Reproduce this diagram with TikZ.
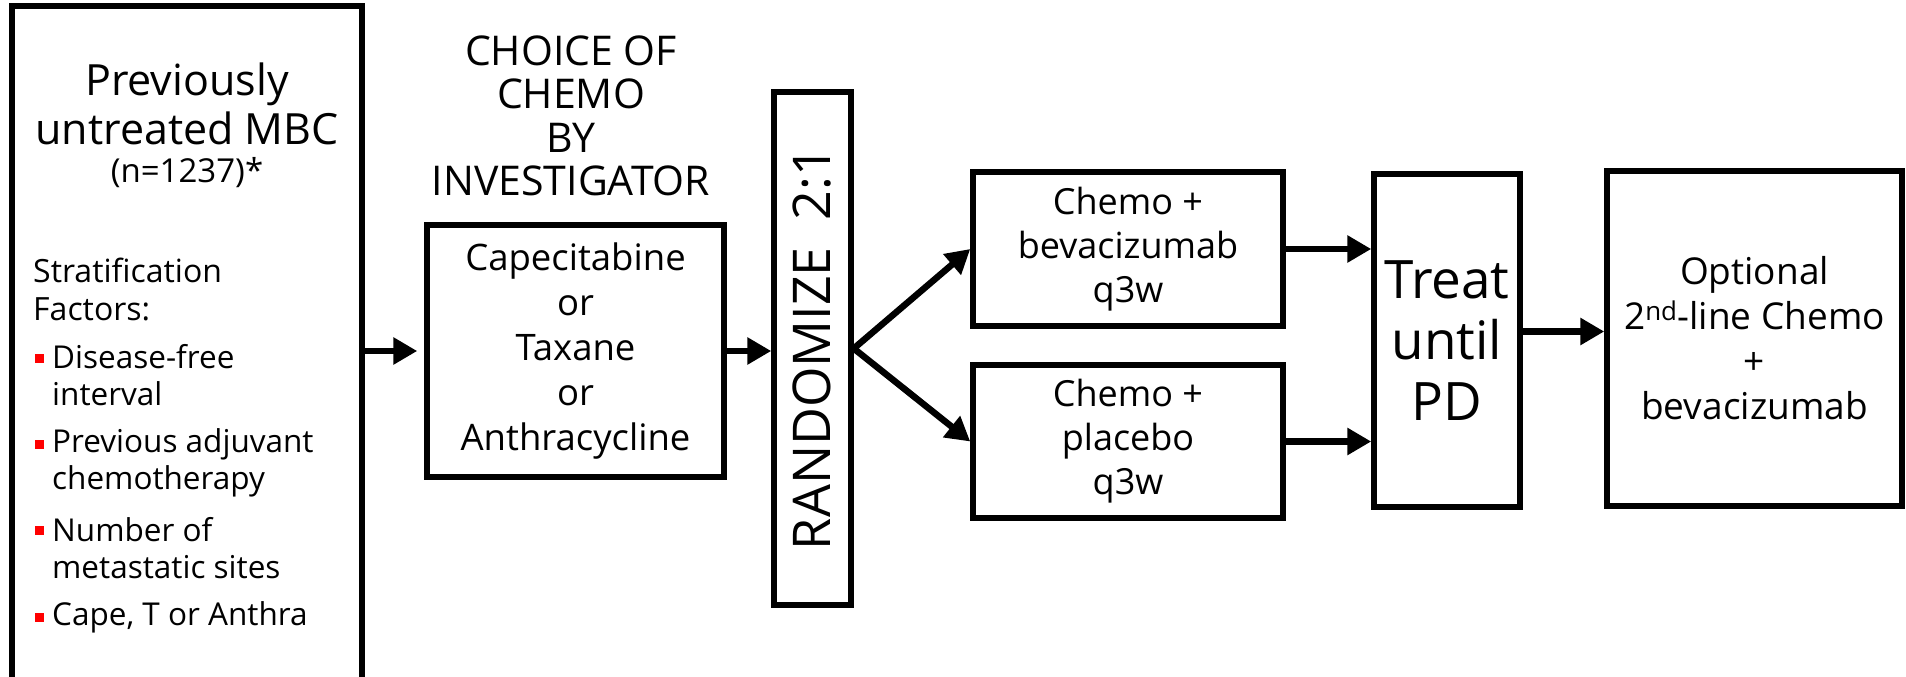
\documentclass[tikz,border=0pt]{standalone}
\usepackage{fontspec}
\setmainfont{Open Sans}
\usetikzlibrary{arrows.meta}
\tikzset{
 box/.style={draw=black, line width=5.5pt, rectangle, inner sep=0pt, align=center},
 arr/.style={line width=6.5pt, -{Triangle[length=24pt,width=26pt]}},
 txt/.style={inner sep=0pt, align=center},
 ltxt/.style={inner sep=0pt, align=left, anchor=west, font=\fontsize{31.5}{37}\selectfont},
 bul/.style={fill=red, minimum size=9pt, inner sep=0pt, rectangle}
}
\begin{document}
\begin{tikzpicture}[x=1pt,y=-1pt]
\clip (0,0) rectangle (1906,677);
\fill[white] (0,0) rectangle (1906,677);
% left box
\node[box, minimum width=350pt, minimum height=700pt] (mbc) at (187,356) {};
\node[txt, font=\fontsize{43}{49}\selectfont] (title) at (187,104) {Previously\\untreated MBC};
\node[txt, font=\fontsize{33}{38}\selectfont] (ncount) at (187,173) {(n=1237)*};
\node[ltxt, font=\fontsize{32}{38}\selectfont] (strat) at (33,289) {Stratification\\Factors:};
\node[bul] (b1) at (39,358) {};
\node[bul] (b2) at (39,444) {};
\node[bul] (b3) at (39,530) {};
\node[bul] (b4) at (39,617) {};
\node[ltxt] (i1) at (52,375.5) {Disease-free\\interval};
\node[ltxt] (i2) at (52,462.5) {Previous adjuvant\\chemotherapy};
\node[ltxt] (i3) at (52,548.5) {Number of\\metastatic sites};
\node[ltxt] (i4) at (52,617) {Cape, T or Anthra};
% choice
\node[txt, font=\fontsize{41}{43.5}\selectfont] (choice) at (571,116) {CHOICE OF\\CHEMO\\BY\\INVESTIGATOR};
\node[box, minimum width=297pt, minimum height=252pt, font=\fontsize{36.5}{44.8}\selectfont] (cape) at (575.5,351) {Capecitabine\\or\\Taxane\\or\\Anthracycline};
% randomize
\node[box, minimum width=77pt, minimum height=513pt] (rand) at (812.5,348.5) {};
\node[rotate=90, inner sep=0pt, font=\fontsize{52}{60}\selectfont] (randtxt) at (rand.center) {RANDOMIZE\ \ 2:1};
% arms
\node[box, minimum width=310pt, minimum height=154pt, font=\fontsize{36}{44}\selectfont] (bev) at (1128,249) {Chemo +\\bevacizumab\\q3w};
\node[box, minimum width=310pt, minimum height=153pt, font=\fontsize{36}{44}\selectfont] (plac) at (1128,441.5) {Chemo +\\placebo\\q3w};
\node[box, minimum width=146pt, minimum height=333pt, font=\fontsize{53}{61}\selectfont] (treat) at (1447,340.5) {Treat\\until\\PD};
\node[box, minimum width=295pt, minimum height=335pt, font=\fontsize{37}{45}\selectfont] (opt) at (1754.5,338.5) {Optional\\2\textsuperscript{nd}-line Chemo\\+\\bevacizumab};
% arrows
\draw[arr] (mbc.east |- cape.west) -- ([xshift=-7pt]cape.west);
\draw[arr] (cape.east) -- (rand.west |- cape.east);
\draw[arr] (rand.east) -- (bev.west);
\draw[arr] (rand.east) -- (plac.west);
\draw[arr] (bev.east) -- (treat.west |- bev.east);
\draw[arr] (plac.east) -- (treat.west |- plac.east);
\coordinate (tout) at ([yshift=9pt]treat.east);
\draw[arr] (tout) -- (opt.west |- tout);
\end{tikzpicture}
\end{document}
